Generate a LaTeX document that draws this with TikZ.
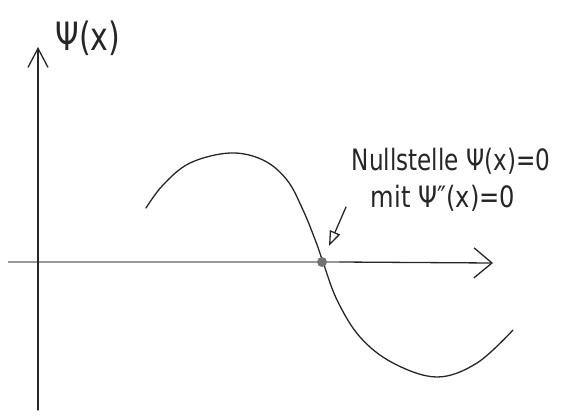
\documentclass[tikz,border=0pt]{standalone}
\usepackage{fontspec}
\newfontfamily\hand{DejaVu Sans}
\usetikzlibrary{arrows.meta}
\tikzset{
  ink/.style={line width=1.3pt, black!85, line cap=round, line join=round},
  axisline/.style={ink, -{Straight Barb[length=18pt,width=30pt,line width=1.3pt]}},
  graypart/.style={line width=1.4pt, black!40},
  lbl/.style={font=\hand\fontsize{21}{25}\selectfont, inner sep=0pt, black!85},
  pointer/.style={ink, -{Triangle[open,length=15pt,width=11pt,line width=1.3pt]}},
}
\begin{document}
\begin{tikzpicture}[x=1pt,y=-1pt]
\useasboundingbox (0,0) rectangle (573,416);
\coordinate (ybot) at (38,410);
\coordinate (ytop) at (38,47);
\coordinate (xleft) at (8,262);
\coordinate (xmid) at (340,262);
\coordinate (xtip) at (493,263);
% horizontal axis
\draw[graypart] (xleft) -- (xmid);
\draw[axisline] (xmid) -- (xtip);
% vertical axis
\draw[axisline, -{Straight Barb[length=19pt,width=20pt,line width=1.3pt]}] (ybot) -- (ytop);
\node[lbl, font=\hand\fontsize{30}{34}\selectfont] (ylab) at (88,38) {\scalebox{1}[1.3]{Ψ(x)}};
% curve
\draw[ink] plot[smooth, tension=0.6] coordinates {(146,208) (163,185) (190,163) (230,153) (263,160) (287,180) (303,210) (316,242) (323,262) (337,300) (360,337) (393,363) (437,377) (477,363) (513,330)};
% zero point
\node[circle, fill=black!55, minimum size=10pt, inner sep=0pt] (zero) at (322,262) {};
% labels
\node[lbl] (l1) at (451,161) {\scalebox{1.1}[1.4]{Nullstelle Ψ(x)=0}};
\node[lbl] (l2) at (443,198) {\scalebox{1.15}[1.4]{mit Ψ″(x)=0}};
\coordinate (ptail) at (346,207);
\coordinate (ptip) at (329,246);
\draw[pointer] (ptail) -- (ptip);
\end{tikzpicture}
\end{document}
